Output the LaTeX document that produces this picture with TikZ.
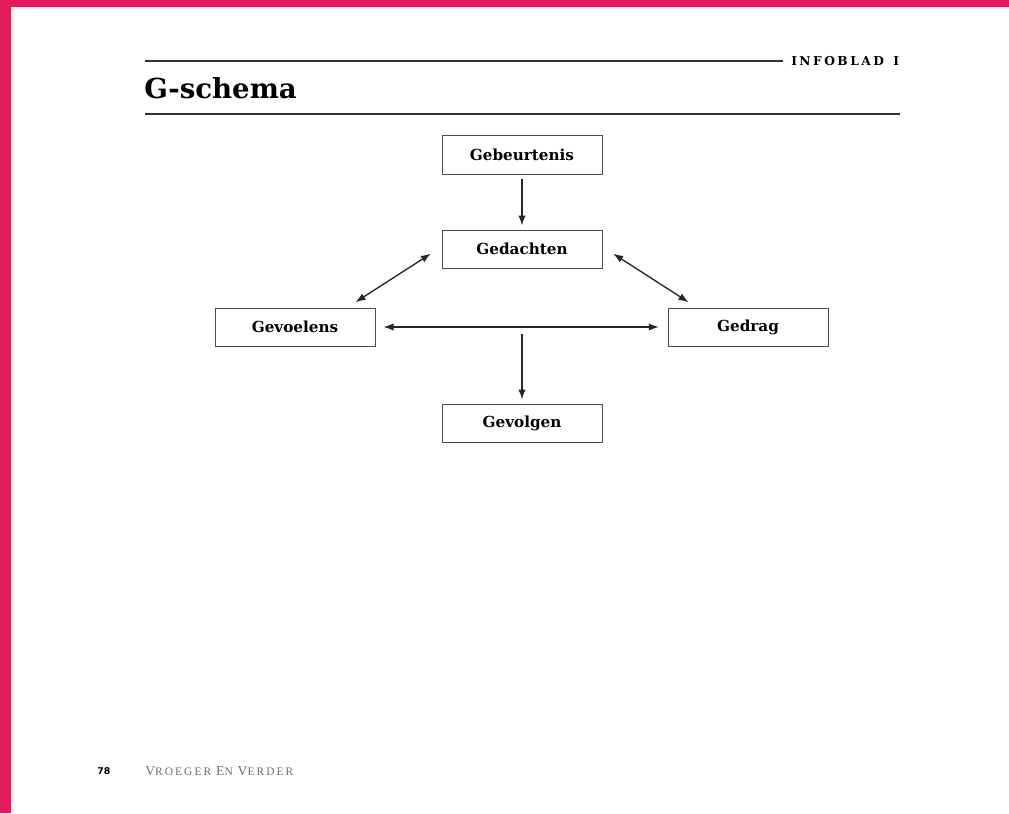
\documentclass[tikz,border=0pt]{standalone}
\usepackage{fontspec}
\setmainfont{DejaVu Serif}
\newfontfamily\slab{DejaVu Serif}
\newfontfamily\spacedslab[LetterSpace=20]{DejaVu Serif}
\newfontfamily\footserif[LetterSpace=18]{Liberation Serif}
\newfontfamily\footsans{DejaVu Sans}
\usetikzlibrary{arrows.meta}
\definecolor{pinkband}{HTML}{E31B5B}
\definecolor{rulegray}{HTML}{333333}
\definecolor{footgray}{HTML}{6E6E6E}
\tikzset{
  gbox/.style={draw=black!70, line width=0.75pt, minimum width=120pt, minimum height=28.5pt, inner sep=0pt,
    font=\slab\bfseries\fontsize{11.4pt}{13pt}\selectfont},
  conn/.style={line width=1pt, draw=black!85, -{Latex[length=7.5pt,width=5.5pt]}},
  bconn/.style={line width=1pt, draw=black!85, {Latex[length=7.5pt,width=5.5pt]}-{Latex[length=7.5pt,width=5.5pt]}},
  hrule/.style={draw=rulegray, line width=0.85pt}
}
\begin{document}
\begin{tikzpicture}[x=0.75pt,y=-0.75pt]
\useasboundingbox (0,0) rectangle (1009,813);
\fill[white] (0,0) rectangle (1009,813);
\fill[pinkband] (0,0) rectangle (1009,7);
\fill[pinkband] (0,0) rectangle (11,813);
% header
\coordinate (r1a) at (145,61);
\coordinate (r1b) at (783,61);
\draw[hrule] (r1a) -- (r1b);
\node[anchor=west, inner sep=0pt, font=\spacedslab\bfseries\fontsize{9.2pt}{10pt}\selectfont] (info) at (791,61) {INFOBLAD\hspace{2pt} I};
\node[anchor=west, inner sep=0pt, font=\slab\bfseries\fontsize{20.7pt}{24pt}\selectfont] (title) at (144,88) {G-schema};
\coordinate (r2a) at (145,114);
\coordinate (r2b) at (900,114);
\draw[hrule] (r2a) -- (r2b);
% boxes
\node[gbox] (geb) at (522,155) {Gebeurtenis};
\node[gbox] (ged) at (522,249) {Gedachten};
\node[gbox] (gev) at (295,327) {Gevoelens};
\node[gbox] (gdr) at (748,327) {Gedrag};
\node[gbox] (gvl) at (522,423) {Gevolgen};
% connectors
\draw[conn] ([yshift=-3.5pt]geb.south) -- ([yshift=3pt]ged.north);
\draw[bconn] ([shift={(-8pt,-3.5pt)}]ged.west) -- ([shift={(-15pt,4pt)}]gev.north east);
\draw[bconn] ([shift={(8pt,-3.5pt)}]ged.east) -- ([shift={(-105pt,4pt)}]gdr.north east);
\draw[bconn] ([xshift=6pt]gev.east) -- ([xshift=-6.5pt]gdr.west);
\coordinate (vstart) at (522,334);
\draw[conn] (vstart) -- ([yshift=3pt]gvl.north);
% footer
\node[anchor=west, inner sep=0pt, font=\footsans\bfseries\fontsize{7pt}{8pt}\selectfont] (pg) at (97,771.5) {78};
\node[anchor=west, inner sep=0pt, text=footgray, font=\footserif\fontsize{8.6pt}{10pt}\selectfont] (ft) at (145,771.5) {{\fontsize{10.2pt}{10pt}\selectfont V}ROEGER {\fontsize{10.2pt}{10pt}\selectfont E}N {\fontsize{10.2pt}{10pt}\selectfont V}ERDER};
\end{tikzpicture}
\end{document}
